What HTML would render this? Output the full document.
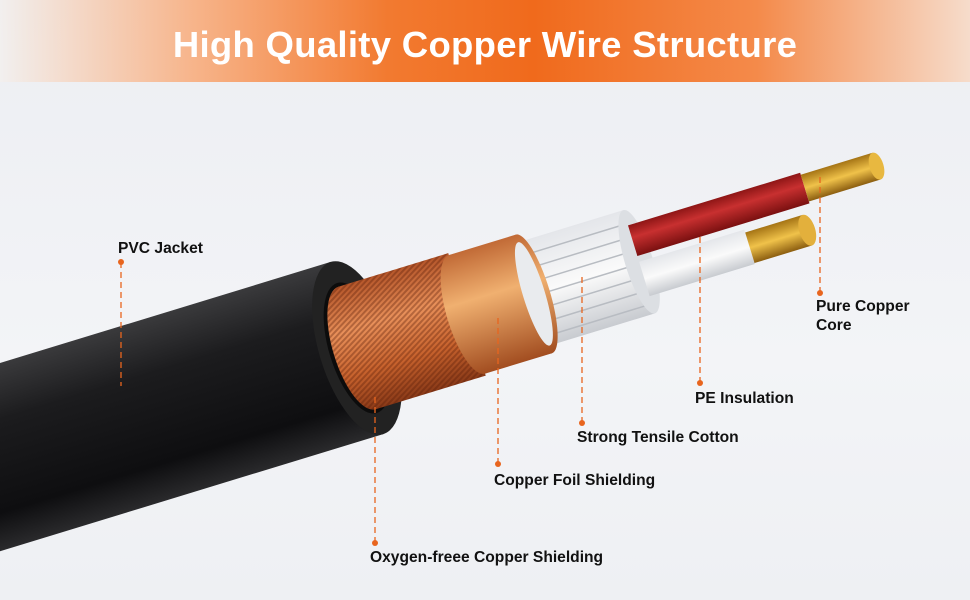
<!DOCTYPE html>
<html><head><style>
html,body{margin:0;padding:0}
body{width:970px;height:600px;overflow:hidden;position:relative;background:linear-gradient(180deg,#eceef2 0%,#f3f4f7 60%,#eef0f3 100%);font-family:"Liberation Sans",sans-serif}
.hdr{position:absolute;left:0;top:0;width:970px;height:82px;background:linear-gradient(90deg,rgba(245,240,236,0.6) 0%,#f7b48a 20%,#f27a30 40%,#f06a1c 55%,#f48a4a 78%,#f6dccb 100%)}
.title{position:absolute;left:0;top:24px;width:970px;text-align:center;color:#fff;font-weight:bold;font-size:36.5px;letter-spacing:0.3px}
.lbl{position:absolute;font-weight:bold;font-size:15.6px;color:#111;line-height:19px}
svg{position:absolute;left:0;top:0}
</style></head><body>
<div class="hdr"></div>
<div class="title">High Quality Copper Wire Structure</div>
<svg width="970" height="600">
<defs>
<linearGradient id="blk" x1="0" y1="0" x2="0" y2="1"><stop offset="0" stop-color="#3a3a3c"/><stop offset="0.3" stop-color="#1c1c1e"/><stop offset="0.8" stop-color="#0e0e10"/><stop offset="1" stop-color="#2a2a2c"/></linearGradient>
<linearGradient id="cu" x1="0" y1="0" x2="0" y2="1"><stop offset="0" stop-color="#b5562a"/><stop offset="0.35" stop-color="#e8905a"/><stop offset="0.7" stop-color="#c7622d"/><stop offset="1" stop-color="#8a3a18"/></linearGradient>
<linearGradient id="foil" x1="0" y1="0" x2="0" y2="1"><stop offset="0" stop-color="#c16a36"/><stop offset="0.4" stop-color="#f0b070"/><stop offset="1" stop-color="#a24d20"/></linearGradient>
<linearGradient id="wh" x1="0" y1="0" x2="0" y2="1"><stop offset="0" stop-color="#e4e6ea"/><stop offset="0.5" stop-color="#fafafa"/><stop offset="1" stop-color="#c8cbd0"/></linearGradient>
<linearGradient id="red" x1="0" y1="0" x2="0" y2="1"><stop offset="0" stop-color="#8e1616"/><stop offset="0.4" stop-color="#c83030"/><stop offset="1" stop-color="#7a1010"/></linearGradient>
<linearGradient id="gold" x1="0" y1="0" x2="0" y2="1"><stop offset="0" stop-color="#a57415"/><stop offset="0.5" stop-color="#f0c24a"/><stop offset="1" stop-color="#8c5e10"/></linearGradient>
<pattern id="lines" width="4" height="4" patternUnits="userSpaceOnUse" patternTransform="rotate(60)"><rect width="2" height="4" fill="rgba(90,30,10,0.35)"/></pattern>
</defs>
<g transform="translate(357,348) rotate(-17)">
<rect x="-520" y="-90" width="520" height="180" fill="url(#blk)"/>
<ellipse cx="0" cy="0" rx="38" ry="90" fill="#222"/>
<ellipse cx="0" cy="0" rx="28" ry="68" fill="#0c0c0c"/>
<rect x="0" y="-64" width="115" height="128" fill="url(#cu)"/>
<rect x="0" y="-64" width="115" height="128" fill="url(#lines)"/>
<ellipse cx="0" cy="0" rx="24" ry="64" fill="url(#cu)"/>
<ellipse cx="0" cy="0" rx="24" ry="64" fill="url(#lines)"/>
<rect x="115" y="-62" width="70" height="124" fill="url(#foil)"/>
<ellipse cx="115" cy="0" rx="20" ry="62" fill="url(#foil)"/>
<rect x="185" y="-54" width="110" height="108" fill="url(#wh)"/>
<g stroke="#b8bcc2" stroke-width="1.5">
<line x1="185" y1="-40" x2="295" y2="-40"/><line x1="185" y1="-26" x2="295" y2="-26"/><line x1="185" y1="-12" x2="295" y2="-12"/><line x1="185" y1="2" x2="295" y2="2"/><line x1="185" y1="16" x2="295" y2="16"/><line x1="185" y1="30" x2="295" y2="30"/><line x1="185" y1="44" x2="295" y2="44"/>
</g>
<ellipse cx="185" cy="0" rx="16" ry="62" fill="url(#foil)"/>
<ellipse cx="185" cy="0" rx="11" ry="54" fill="#e9ebee"/>
<ellipse cx="295" cy="0" rx="14" ry="54" fill="#dcdfe3"/>
<rect x="295" y="-38" width="180" height="32" fill="url(#red)"/>
<rect x="475" y="-36" width="75" height="28" fill="url(#gold)"/>
<ellipse cx="550" cy="-22" rx="7" ry="14" fill="#e8b840"/>
<rect x="295" y="0" width="110" height="36" fill="url(#wh)"/>
<rect x="405" y="3" width="60" height="32" fill="url(#gold)"/>
<ellipse cx="465" cy="19" rx="8" ry="16" fill="#e3b03c"/>
</g>
<g stroke="#e8651e" stroke-width="1.3" stroke-dasharray="6,4" fill="none">
<line x1="121" y1="262" x2="121" y2="386"/>
<line x1="820" y1="293" x2="820" y2="175"/>
<line x1="700" y1="383" x2="700" y2="233"/>
<line x1="582" y1="423" x2="582" y2="275"/>
<line x1="498" y1="464" x2="498" y2="318"/>
<line x1="375" y1="543" x2="375" y2="395"/>
</g>
<g fill="#e8651e">
<circle cx="121" cy="262" r="3"/><circle cx="820" cy="293" r="3"/><circle cx="700" cy="383" r="3"/><circle cx="582" cy="423" r="3"/><circle cx="498" cy="464" r="3"/><circle cx="375" cy="543" r="3"/>
</g>
</svg>
<div class="lbl" style="left:118px;top:239px">PVC Jacket</div>
<div class="lbl" style="left:816px;top:297px">Pure Copper<br>Core</div>
<div class="lbl" style="left:695px;top:389px">PE Insulation</div>
<div class="lbl" style="left:577px;top:428px">Strong Tensile Cotton</div>
<div class="lbl" style="left:494px;top:471px">Copper Foil Shielding</div>
<div class="lbl" style="left:370px;top:548px">Oxygen-freee Copper Shielding</div>
</body></html>
